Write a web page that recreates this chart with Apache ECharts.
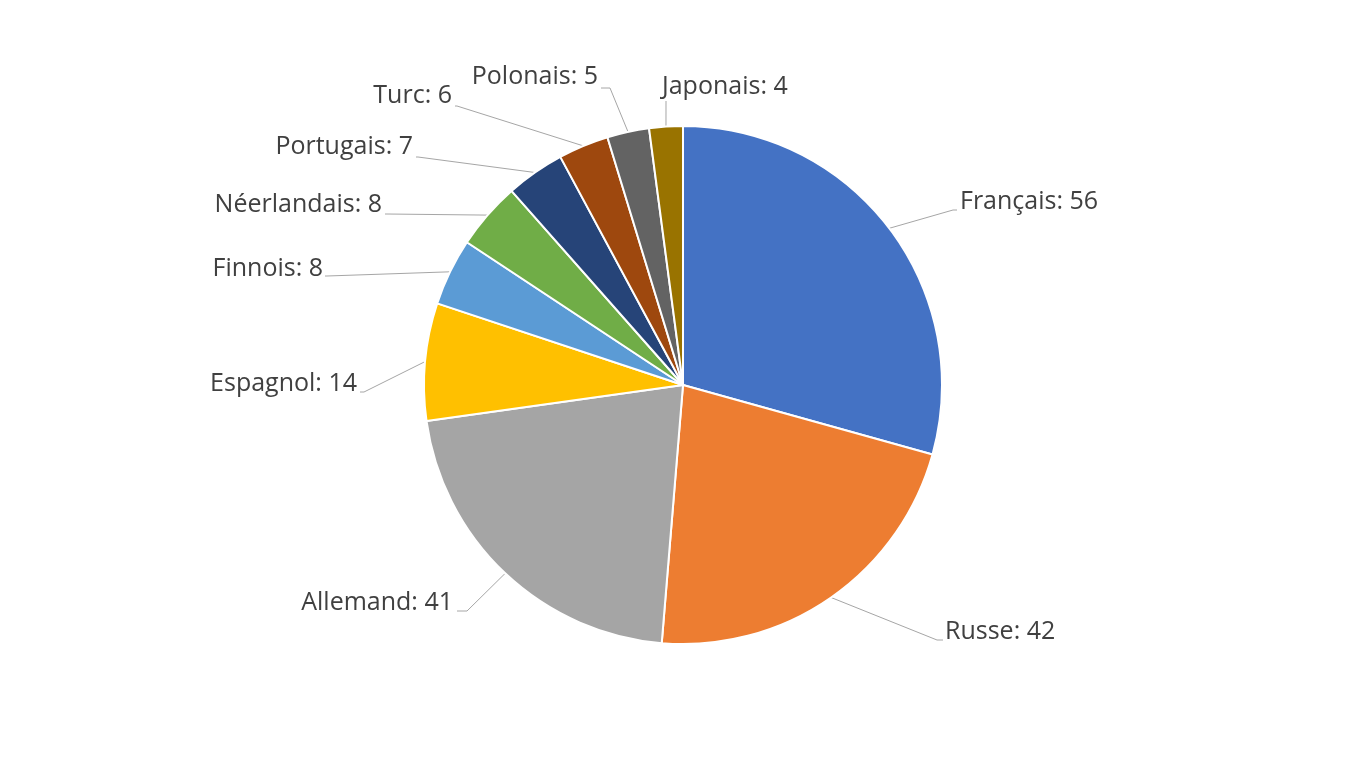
<!DOCTYPE html>
<html>
<head>
<meta charset="utf-8">
<script src="https://cdn.jsdelivr.net/npm/echarts@6/dist/echarts.min.js"></script>
<style>
  html, body { margin: 0; padding: 0; background: #fff; }
  #chart { width: 1362px; height: 765px; }
</style>
</head>
<body>
<div id="chart"></div>
<script>
(function () {
    var chartDom = document.getElementById('chart');
    var chart = echarts.init(chartDom);

    /********** données **********/
    var languages = ['Français', 'Russe', 'Allemand', 'Espagnol', 'Finnois', 'Néerlandais', 'Portugais', 'Turc', 'Polonais', 'Japonais'];
    var counts = [56, 42, 41, 14, 8, 8, 7, 6, 5, 4];

    // palette Office
    var colors = ['#4472C4', '#ED7D31', '#A5A5A5', '#FFC000', '#5B9BD5', '#70AD47', '#264478', '#9E480E', '#636363', '#997300'];

    /********** placement des étiquettes (comme dans Excel) **********/
    // [x du texte, y du centre du texte, alignement]
    var labelSpots = [
        [960, 202, 'left'],
        [945, 632, 'left'],
        [453, 603, 'right'],
        [357, 384, 'right'],
        [323, 269, 'right'],
        [382, 205, 'right'],
        [413, 147, 'right'],
        [452, 96, 'right'],
        [598, 77, 'right'],
        [662, 87, 'left']
    ];
    // coude et extrémité du trait de rappel
    var leaderEnds = [
        [[953, 210], [957, 210]],
        [[937, 640], [943, 640]],
        [[467, 611], [457, 611]],
        [[364, 392], [360, 392]],
        [[327, 276], [325, 276]],
        [[387, 214], [385, 214]],
        [[418, 157], [416, 157]],
        [[457, 106], [455, 106]],
        [[610, 88], [601, 88]],
        [[666, 101], [666, 101]]
    ];

    var seriesData = [];
    for (var i = 0; i < languages.length; i++) {
        seriesData.push({ name: languages[i], value: counts[i] });
    }

    var option = {
        backgroundColor: '#ffffff',
        color: colors,
        animation: false,
        series: [{
            type: 'pie',
            center: [683, 385],
            radius: 259,
            startAngle: 90,
            clockwise: true,
            avoidLabelOverlap: false,
            itemStyle: {
                borderColor: '#ffffff',
                borderWidth: 2
            },
            label: {
                show: true,
                formatter: '{b}: {c}',
                fontFamily: '"Open Sans", "Noto Sans", sans-serif',
                fontSize: 25,
                color: '#404040'
            },
            labelLine: {
                show: true,
                length: 20,
                length2: 20,
                lineStyle: { color: '#a6a6a6', width: 1 }
            },
            labelLayout: function (params) {
                var spot = labelSpots[params.dataIndex];
                var ends = leaderEnds[params.dataIndex];
                var start = params.labelLinePoints ? params.labelLinePoints[0] : ends[0];
                return {
                    x: spot[0],
                    y: spot[1],
                    align: spot[2],
                    verticalAlign: 'middle',
                    labelLinePoints: [start, ends[0], ends[1]]
                };
            },
            data: seriesData
        }]
    };

    chart.setOption(option);
})();
</script>
</body>
</html>
